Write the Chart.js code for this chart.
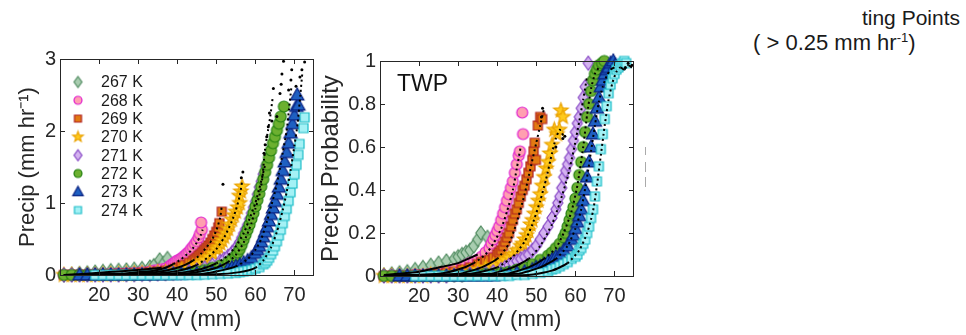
<!DOCTYPE html>
<html>
<head>
<meta charset="utf-8">
<script src="https://cdn.jsdelivr.net/npm/chart.js@4.4.1/dist/chart.umd.min.js"></script>
<style>
  body { margin: 0; background: #fff; width: 966px; height: 335px; overflow: hidden; position: relative; font-family: "Liberation Sans", Arial, Helvetica, sans-serif; color: #1a1a1a; }
  .box { position: absolute; top: 0; height: 335px; }
  .note { position: absolute; font-size: 21px; line-height: 21px; white-space: nowrap; }
  .note sup { font-size: 13px; line-height: 0; }
  .dash { position: absolute; left: 645px; width: 0; border-left: 1px solid #aaa; }
</style>
</head>
<body>
<div class="box" style="left:0;width:340px"><canvas id="precipChart" width="340" height="335"></canvas></div>
<div class="box" style="left:300px;width:360px"><canvas id="probChart" width="360" height="335"></canvas></div>
<div class="note" style="right:6px;top:7px">ting Points</div>
<div class="note" style="left:753px;top:32px;font-size:22px">( &gt; 0.25 mm hr<sup>-1</sup>)</div>
<div class="dash" style="top:147px;height:8px"></div>
<div class="dash" style="top:162px;height:10px"></div>
<div class="dash" style="top:177px;height:10px"></div>
<script>
// axis ticks and series names
var xTicks = [20, 30, 40, 50, 60, 70];
var precipTicks = [0, 1, 2, 3];
var probTicks = [0, 0.2, 0.4, 0.6, 0.8, 1];
var temps = ['267 K', '268 K', '269 K', '270 K', '271 K', '272 K', '273 K', '274 K'];

// left panel: mean precip (mm/hr) vs CWV (mm), [cwv, precip]
var precip267 = [[11,0],[13,0.01],[15,0.02],[17,0.03],[19,0.04],[21,0.05],[23,0.06],[25,0.065],[27,0.07],[29,0.08],[31,0.09],[33,0.11],[34,0.13],[35.5,0.21],[36.5,0.16],[37.5,0.23]];
var precip268 = [[11,0],[13,0],[15,0],[17,0.005],[19,0.01],[21,0.01],[23,0.015],[25,0.02],[27,0.025],[29,0.03],[31,0.04],[33,0.05],[34,0.06],[35,0.07],[36,0.08],[37,0.09],[38,0.12],[38.5,0.14],[39,0.16],[39.5,0.18],[40,0.2],[40.5,0.21],[41,0.23],[41.5,0.25],[42,0.27],[42.5,0.3],[43,0.32],[43.5,0.36],[44,0.39],[44.5,0.43],[45,0.47],[45.5,0.52],[45.8,0.57],[46.3,0.63],[46.1,0.73]];
var precip269 = [[11,0],[13,0],[15,0],[17,0],[19,0.005],[21,0.01],[23,0.01],[25,0.015],[27,0.02],[29,0.025],[31,0.03],[33,0.04],[35,0.05],[37,0.06],[39,0.08],[40,0.1],[41,0.12],[42,0.14],[43,0.17],[44,0.2],[44.5,0.22],[45,0.24],[45.5,0.27],[46,0.29],[46.5,0.32],[47,0.35],[47.5,0.38],[48,0.41],[48.5,0.45],[49,0.5],[49.5,0.55],[50,0.6],[50.5,0.66],[50.8,0.72],[51.4,0.88]];
var precip270 = [[11,0],[13,0],[15,0],[17,0],[19,0],[21,0.005],[23,0.01],[25,0.01],[27,0.015],[29,0.02],[31,0.025],[33,0.03],[35,0.035],[37,0.04],[39,0.05],[41,0.07],[43,0.1],[44,0.12],[45,0.14],[46,0.17],[47,0.21],[48,0.25],[49,0.3],[50,0.36],[50.5,0.39],[51,0.44],[51.5,0.48],[52,0.53],[52.5,0.58],[53,0.64],[53.5,0.7],[54,0.77],[54.5,0.83],[55,0.88],[55.5,0.94],[56,1.0],[55.9,1.1],[56.3,1.16],[56.6,1.23]];
var precip271 = [[11,0],[13,0],[15,0],[17,0],[19,0],[21,0],[23,0],[25,0],[27,0.005],[29,0.005],[31,0.01],[33,0.01],[35,0.015],[37,0.02],[39,0.025],[41,0.03],[43,0.05],[45,0.07],[47,0.1],[49,0.14],[51,0.19],[52,0.22],[53,0.26],[54,0.31],[55,0.37],[55.5,0.41],[56,0.46],[56.5,0.52],[57,0.58],[57.5,0.64],[58,0.7],[58.5,0.78],[59,0.86],[59.5,0.94],[60,1.02],[60.5,1.12],[61,1.22],[61.5,1.3],[62,1.4],[62.6,1.51]];
var precip272 = [[11,0],[13,0],[15,0],[17,0],[19,0],[21,0],[23,0],[25,0],[27,0],[29,0],[31,0.005],[33,0.005],[35,0.01],[37,0.01],[39,0.015],[41,0.02],[43,0.03],[45,0.05],[47,0.07],[49,0.1],[51,0.13],[53,0.18],[54,0.22],[55,0.27],[55.5,0.31],[56,0.36],[56.5,0.42],[57,0.49],[57.5,0.56],[58,0.63],[58.5,0.7],[59,0.78],[59.5,0.86],[60,0.95],[60.5,1.04],[61,1.13],[61.5,1.23],[62,1.33],[62.5,1.43],[63,1.53],[63.5,1.63],[64,1.73],[64.5,1.83],[65,1.92],[65.5,2.01],[66,2.1],[66.5,2.2],[67.3,2.34]];
var precip273 = [[15,0],[17,0],[19,0],[21,0],[23,0],[25,0],[27,0],[29,0],[31,0],[33,0],[35,0.005],[37,0.005],[39,0.01],[41,0.01],[43,0.015],[45,0.02],[47,0.03],[49,0.04],[51,0.06],[53,0.08],[54,0.1],[55,0.12],[56,0.14],[57,0.17],[58,0.2],[59,0.24],[60,0.3],[60.5,0.35],[61,0.4],[61.5,0.46],[62,0.53],[62.5,0.6],[63,0.67],[63.5,0.75],[64,0.84],[64.5,0.93],[65,1.02],[65.5,1.12],[66,1.22],[66.5,1.33],[67,1.45],[67.5,1.57],[68,1.7],[68.5,1.83],[69,1.97],[69.5,2.1],[70,2.22],[70.5,2.34],[71,2.36],[70.7,2.5]];
var precip274 = [[19,0],[21,0],[23,0],[25,0],[27,0],[29,0],[31,0],[33,0],[35,0],[37,0],[39,0],[41,0],[43,0],[45,0],[47,0.005],[49,0.01],[51,0.015],[53,0.02],[55,0.03],[56,0.04],[57,0.05],[58,0.06],[59,0.07],[60,0.09],[61,0.11],[62,0.15],[62.5,0.17],[63,0.2],[63.5,0.24],[64,0.29],[64.5,0.34],[65,0.4],[65.5,0.47],[66,0.55],[66.5,0.63],[67,0.72],[67.5,0.82],[68,0.92],[68.5,1.03],[69,1.15],[69.5,1.27],[70,1.4],[70.5,1.53],[71,1.67],[71.3,1.82],[72.3,2.04],[72.6,2.19]];

// left panel: black dotted curves and loose dots
var precipFit267 = [[11,0],[15,0.01],[20,0.03],[25,0.05],[30,0.07],[34,0.09],[36,0.1]];
var precipFit268 = [[11,0],[20,0.01],[26,0.02],[30,0.04],[34,0.06],[37,0.1],[39,0.15],[41,0.22],[43,0.31],[44,0.37],[45,0.45],[46,0.55],[46.5,0.63]];
var precipFit269 = [[11,0],[25,0.01],[32,0.03],[37,0.06],[40,0.1],[42,0.14],[44,0.2],[46,0.29],[48,0.42],[49,0.5],[50,0.62],[51,0.8],[51.4,0.96]];
var precipFit270 = [[11,0],[30,0.01],[38,0.04],[42,0.08],[45,0.14],[48,0.25],[50,0.36],[52,0.52],[54,0.75],[55,0.9],[56,1.1],[56.6,1.3]];
var precipFit271 = [[11,0],[35,0.01],[42,0.04],[46,0.08],[50,0.16],[53,0.27],[55,0.4],[57,0.58],[58.5,0.78],[60,1.0],[61,1.2],[62,1.42],[62.6,1.55]];
var precipFit272 = [[11,0],[40,0.01],[46,0.05],[50,0.1],[53,0.18],[55,0.28],[57,0.45],[59,0.72],[60,0.92],[61,1.1],[61.8,1.35],[62.2,1.6],[62.6,1.8],[63.2,2.0],[63.8,2.2],[64.4,2.45]];
var precipFit273 = [[11,0],[45,0.01],[50,0.05],[55,0.12],[58,0.22],[60,0.35],[61.5,0.5],[63,0.75],[64,0.95],[65,1.15],[66,1.4],[67,1.7],[68,2.0],[68.6,2.3],[69.2,2.6]];
var precipFit274 = [[11,0],[50,0.01],[56,0.04],[60,0.1],[62,0.2],[64,0.38],[65.5,0.6],[67,0.9],[68,1.15],[69,1.45],[70,1.8],[70.8,2.1],[71.5,2.5],[72,2.8]];
var precipDots = [[67.2,2.97],[69.3,2.85],[71.9,2.85],[71.4,2.75],[69.1,2.71],[66.8,2.79],[64.6,2.59],[66.6,2.65],[68.5,2.57],[66.3,2.52],[63.6,2.25],[65.5,2.2],[72.6,2.96],[70.4,2.62],[56.8,1.43],[56.4,1.35],[51.7,1.26],[62.2,1.69],[62.5,1.81],[62.9,1.92],[63.3,2.06],[64.2,2.14]];

// right panel: precip probability vs CWV (mm), [cwv, probability]
var prob267 = [[11,0.005],[13,0.01],[15,0.015],[17,0.02],[19,0.03],[21,0.04],[23,0.05],[25,0.06],[27,0.07],[29,0.08],[30,0.09],[31,0.1],[32,0.11],[33,0.12],[34,0.14],[35,0.17],[35.8,0.2],[37.5,0.18]];
var prob268 = [[11,0],[13,0],[15,0],[17,0],[19,0.005],[21,0.005],[23,0.01],[25,0.015],[27,0.02],[29,0.03],[31,0.04],[32,0.05],[33,0.06],[34,0.065],[35,0.075],[36,0.09],[37,0.11],[38,0.13],[38.5,0.15],[39,0.17],[39.5,0.19],[40,0.21],[40.5,0.23],[41,0.26],[41.5,0.29],[42,0.32],[42.5,0.35],[43,0.38],[43.5,0.41],[44,0.44],[44.5,0.48],[45,0.52],[45.5,0.56],[45.8,0.58],[46.6,0.66],[46.4,0.76]];
var prob269 = [[11,0],[13,0],[15,0],[17,0],[19,0.005],[21,0.005],[23,0.01],[25,0.01],[27,0.015],[29,0.02],[31,0.03],[33,0.04],[35,0.055],[36,0.065],[37,0.07],[38,0.075],[39,0.085],[40,0.1],[40.5,0.11],[41,0.12],[41.5,0.14],[42,0.16],[42.5,0.18],[43,0.2],[43.5,0.23],[44,0.26],[44.5,0.29],[45,0.31],[45.5,0.34],[46,0.37],[46.5,0.4],[47,0.42],[47.5,0.45],[48,0.48],[48.5,0.51],[49,0.54],[49.3,0.58],[49.6,0.62],[49.9,0.54],[50.4,0.7],[51,0.74],[51.5,0.73]];
var prob270 = [[11,0],[13,0],[15,0],[17,0],[19,0],[21,0],[23,0.005],[25,0.005],[27,0.01],[29,0.01],[31,0.015],[33,0.02],[35,0.03],[37,0.04],[39,0.05],[41,0.065],[42,0.075],[43,0.085],[44,0.1],[45,0.12],[46,0.14],[46.5,0.15],[47,0.17],[47.5,0.19],[48,0.21],[48.5,0.24],[49,0.26],[49.5,0.29],[50,0.32],[50.5,0.35],[51,0.38],[51.5,0.42],[52,0.46],[52.5,0.5],[53,0.53],[53.5,0.57],[54,0.61],[54.6,0.68],[55.3,0.66],[55.9,0.68],[56.3,0.77],[56.8,0.74]];
var prob271 = [[11,0],[13,0],[15,0],[17,0],[19,0],[21,0],[23,0],[25,0],[27,0],[29,0.005],[31,0.005],[33,0.01],[35,0.01],[37,0.015],[39,0.02],[41,0.03],[42,0.04],[43,0.05],[44,0.06],[45,0.07],[46,0.08],[47,0.09],[48,0.1],[49,0.12],[50,0.14],[51,0.17],[52,0.2],[53,0.23],[54,0.27],[55,0.31],[55.5,0.34],[56,0.37],[56.5,0.41],[57,0.46],[57.5,0.49],[58,0.52],[58.5,0.55],[59,0.59],[59.5,0.63],[60,0.67],[60.5,0.71],[61,0.74],[61.5,0.78],[62,0.83],[62.5,0.88],[63.3,0.99]];
var prob272 = [[11,0],[13,0],[15,0],[17,0],[19,0],[21,0],[23,0],[25,0],[27,0],[29,0],[31,0],[33,0.005],[35,0.005],[37,0.01],[39,0.01],[41,0.015],[43,0.02],[45,0.03],[47,0.04],[49,0.055],[51,0.075],[53,0.095],[54,0.11],[55,0.13],[56,0.15],[57,0.18],[57.5,0.2],[58,0.23],[58.5,0.26],[59,0.29],[59.5,0.32],[60,0.36],[60.5,0.41],[61,0.47],[61.5,0.53],[62,0.6],[62.5,0.67],[63,0.74],[63.5,0.8],[64,0.86],[64.5,0.91],[65,0.94],[65.5,0.96],[66,0.98],[66.8,0.99],[67.4,1.0]];
var prob273 = [[15,0],[17,0],[19,0],[21,0],[23,0],[25,0],[27,0],[29,0],[31,0],[33,0],[35,0],[37,0],[39,0],[41,0.005],[43,0.01],[45,0.015],[47,0.02],[49,0.03],[50,0.04],[51,0.045],[52,0.055],[53,0.065],[54,0.075],[55,0.09],[56,0.1],[57,0.12],[58,0.14],[59,0.17],[59.5,0.19],[60,0.22],[60.5,0.25],[61,0.28],[61.5,0.31],[62,0.35],[62.5,0.4],[63,0.46],[63.5,0.53],[64,0.6],[64.5,0.66],[65,0.72],[65.5,0.78],[66,0.83],[66.5,0.88],[67,0.91],[67.5,0.94],[68,0.96],[68.5,0.97],[69,0.99],[69.7,1.0],[70.2,0.98]];
var prob274 = [[19,0],[21,0],[23,0],[25,0],[27,0],[29,0],[31,0],[33,0],[35,0],[37,0],[39,0],[41,0],[43,0],[45,0.005],[47,0.005],[49,0.01],[51,0.015],[53,0.02],[54,0.03],[55,0.035],[56,0.045],[57,0.055],[58,0.065],[59,0.08],[60,0.09],[60.5,0.1],[61,0.12],[61.5,0.13],[62,0.15],[62.5,0.17],[63,0.2],[63.5,0.23],[64,0.27],[64.5,0.31],[65,0.37],[65.5,0.44],[66,0.51],[66.5,0.59],[67,0.66],[67.5,0.73],[68,0.79],[68.5,0.85],[69,0.89],[69.5,0.92],[70,0.94],[70.5,0.96],[71,0.97],[71.5,0.98],[72,0.99],[72.5,1.0],[73,0.99]];

// right panel: black dotted curves and loose dots
var probFit267 = [[11,0.005],[20,0.02],[25,0.04],[30,0.06],[35,0.1]];
var probFit268 = [[11,0],[25,0.01],[30,0.03],[34,0.06],[37,0.1],[39,0.15],[41,0.22],[42.5,0.3],[44,0.4],[45,0.5],[46,0.6]];
var probFit269 = [[11,0],[30,0.01],[36,0.04],[40,0.08],[43,0.15],[45,0.25],[47,0.38],[48.5,0.5],[50,0.62],[51,0.7],[52,0.78]];
var probFit270 = [[11,0],[33,0.01],[40,0.04],[44,0.09],[47,0.16],[49,0.24],[51,0.35],[52.5,0.45],[54,0.57],[55,0.64],[56,0.68],[57,0.65]];
var probFit271 = [[11,0],[38,0.01],[44,0.04],[48,0.08],[51,0.14],[54,0.24],[56,0.34],[58,0.46],[59.5,0.58],[61,0.72],[62,0.82],[63,0.93]];
var probFit272 = [[11,0],[42,0.01],[48,0.04],[52,0.08],[55,0.13],[57,0.2],[59,0.3],[60.5,0.42],[62,0.6],[63,0.75],[64,0.87],[65,0.94],[66,0.97]];
var probFit273 = [[11,0],[45,0.01],[51,0.04],[55,0.08],[58,0.14],[60,0.22],[61.5,0.31],[63,0.46],[64,0.58],[65,0.7],[66,0.81],[67,0.88],[68,0.93],[69,0.96],[70,0.97]];
var probFit274 = [[11,0],[48,0.005],[54,0.025],[58,0.06],[61,0.12],[63,0.2],[64.5,0.3],[65.5,0.42],[66.5,0.56],[67.5,0.7],[68.5,0.82],[69.5,0.9],[70.5,0.95],[71.5,0.97],[72.5,0.96],[73.5,0.98],[74.5,0.97]];
var probDots = [[51.6,0.78],[51.3,0.74],[56.8,0.64],[57.3,0.65],[55,0.6],[73.5,0.99],[74.5,0.98],[72.8,0.97]];

var FONT = '"Liberation Sans", Arial, Helvetica, sans-serif';
var INK = '#262626';

var looks = [
    { shape: 'diamond',  fill: '#a9cdb0', edge: '#4f8a5f', r: 7,   lr: 5.5 },
    { shape: 'circle',   fill: '#ff9fb0', edge: '#e020d0', r: 5.5, lr: 4 },
    { shape: 'square',   fill: '#e27a12', edge: '#b02020', r: 4.5, lr: 3.5 },
    { shape: 'star',     fill: '#ffca1c', edge: '#eaa200', r: 7.5, lr: 5.5 },
    { shape: 'diamond',  fill: '#d4b2f0', edge: '#8444c4', r: 7,   lr: 5.5 },
    { shape: 'circle',   fill: '#6cb030', edge: '#238010', r: 5.5, lr: 4 },
    { shape: 'triangle', fill: '#1f60c2', edge: '#0a2282', r: 7,   lr: 5.5 },
    { shape: 'square',   fill: '#a4f1f5', edge: '#1cbcc8', r: 4.5, lr: 3.5 }
];

function makeMarker(shape, r, fill, edge) {
    var c = document.createElement('canvas');
    var s = Math.ceil(2 * r + 4);
    c.width = s; c.height = s;
    var g = c.getContext('2d');
    var m = s / 2;
    g.beginPath();
    if (shape === 'circle') {
        g.arc(m, m, r, 0, 2 * Math.PI);
    } else if (shape === 'square') {
        g.rect(m - r, m - r, 2 * r, 2 * r);
    } else if (shape === 'diamond') {
        g.moveTo(m, m - r); g.lineTo(m + 0.72 * r, m); g.lineTo(m, m + r); g.lineTo(m - 0.72 * r, m); g.closePath();
    } else if (shape === 'triangle') {
        g.moveTo(m, m - r); g.lineTo(m + 0.95 * r, m + 0.7 * r); g.lineTo(m - 0.95 * r, m + 0.7 * r); g.closePath();
    } else {
        for (var k = 0; k < 10; k++) {
            var a = -Math.PI / 2 + k * Math.PI / 5;
            var rr = k % 2 ? r * 0.42 : r;
            g.lineTo(m + rr * Math.cos(a), m + rr * Math.sin(a));
        }
        g.closePath();
    }
    g.fillStyle = fill; g.fill();
    g.lineWidth = 1.2; g.strokeStyle = edge; g.stroke();
    return c;
}

var plotMarks = looks.map(function (l) { return makeMarker(l.shape, l.r, l.fill, l.edge); });
var legendMarks = looks.map(function (l) { return makeMarker(l.shape, l.lr, l.fill, l.edge); });

function pts(arr) {
    return arr.map(function (p) { return { x: p[0], y: p[1] }; });
}

function markerSet(arr, i) {
    return {
        label: temps[i], data: pts(arr), pointStyle: plotMarks[i], pointRadius: looks[i].r,
        showLine: false, clip: false, order: 20 - i
    };
}

function fitSet(arr) {
    return {
        data: pts(arr), showLine: true, pointRadius: 0, borderColor: '#000', borderWidth: 2,
        clip: false, order: 1, tension: 0.2,
        segment: {
            borderDash: function (c) {
                var dx = Math.abs(c.p1.x - c.p0.x), dy = Math.abs(c.p1.y - c.p0.y);
                return dy > 0.6 * dx ? [2, 3] : undefined;
            }
        }
    };
}

function dotSet(arr) {
    return { data: pts(arr), pointRadius: 1.5, pointBackgroundColor: '#000', pointBorderWidth: 0, showLine: false, clip: false, order: 0 };
}

// box round the plot area with inward tick marks on all sides
var frame = {
    id: 'frame',
    afterDraw: function (chart) {
        var ctx = chart.ctx, a = chart.chartArea;
        var xs = chart.scales.x, ys = chart.scales.y;
        ctx.save();
        ctx.strokeStyle = INK;
        ctx.lineWidth = 1;
        ctx.strokeRect(Math.round(a.left) + 0.5, Math.round(a.top) + 0.5, Math.round(a.right - a.left) - 1, Math.round(a.bottom - a.top));
        ctx.beginPath();
        xs.ticks.forEach(function (t) {
            var px = Math.round(xs.getPixelForValue(t.value)) + 0.5;
            ctx.moveTo(px, a.bottom); ctx.lineTo(px, a.bottom - 5);
            ctx.moveTo(px, a.top); ctx.lineTo(px, a.top + 5);
        });
        ys.ticks.forEach(function (t) {
            var py = Math.round(ys.getPixelForValue(t.value)) + 0.5;
            ctx.moveTo(a.left, py); ctx.lineTo(a.left + 5, py);
            ctx.moveTo(a.right, py); ctx.lineTo(a.right - 5, py);
        });
        ctx.stroke();
        ctx.restore();
    }
};

function axes(yTicks, yMax, yTitle, yTitleSize, yWidth, xHeight, titlePad) {
    return {
        x: {
            type: 'linear', min: 10, max: 75,
            afterBuildTicks: function (s) { s.ticks = xTicks.map(function (v) { return { value: v }; }); },
            afterFit: function (s) { s.height = xHeight; },
            grid: { display: false, drawTicks: false }, border: { display: false },
            ticks: { color: INK, font: { family: FONT, size: 20 }, padding: 8, maxRotation: 0 },
            title: { display: true, text: 'CWV (mm)', color: INK, font: { family: FONT, size: 22 }, padding: { top: 0, bottom: 2 } }
        },
        y: {
            type: 'linear', min: 0, max: yMax,
            afterBuildTicks: function (s) { s.ticks = yTicks.map(function (v) { return { value: v }; }); },
            afterFit: function (s) { s.width = yWidth; },
            grid: { display: false, drawTicks: false }, border: { display: false },
            ticks: {
                color: INK, font: { family: FONT, size: 20 }, padding: 4,
                callback: function (v) { return (v === 0 || v === 1 || v === 2 || v === 3) ? String(v) : v.toFixed(1); }
            },
            title: { display: true, text: yTitle, color: INK, font: { family: FONT, size: yTitleSize }, padding: { top: titlePad, bottom: 0 } }
        }
    };
}

var baseOpts = {
    responsive: false, animation: false, events: [],
    plugins: { legend: { display: false }, tooltip: { enabled: false } }
};

var precipSeries = [precip267, precip268, precip269, precip270, precip271, precip272, precip273, precip274];
var precipFits = [precipFit267, precipFit268, precipFit269, precipFit270, precipFit271, precipFit272, precipFit273, precipFit274];
var probSeries = [prob267, prob268, prob269, prob270, prob271, prob272, prob273, prob274];
var probFits = [probFit267, probFit268, probFit269, probFit270, probFit271, probFit272, probFit273, probFit274];

var legendBox = {
    id: 'legendBox',
    afterDraw: function (chart) {
        var ctx = chart.ctx;
        ctx.save();
        ctx.font = '16px ' + FONT;
        ctx.fillStyle = '#1a1a1a';
        ctx.textBaseline = 'middle';
        temps.forEach(function (t, i) {
            var y = 82 + i * 18.3;
            var m = legendMarks[i];
            ctx.drawImage(m, 78 - m.width / 2, y - m.height / 2);
            ctx.fillText(t, 101, y + 1);
        });
        ctx.restore();
    }
};

var twpLabel = {
    id: 'twpLabel',
    afterDraw: function (chart) {
        var ctx = chart.ctx;
        ctx.save();
        ctx.font = '23px ' + FONT;
        ctx.fillStyle = '#111';
        ctx.textBaseline = 'middle';
        ctx.fillText('TWP', 97, 85);
        ctx.restore();
    }
};

new Chart(document.getElementById('precipChart'), {
    type: 'scatter',
    data: {
        datasets: precipSeries.map(markerSet)
            .concat(precipFits.map(fitSet))
            .concat([dotSet(precipDots)])
    },
    options: Object.assign({}, baseOpts, {
        layout: { padding: { top: 59, right: 26, left: 0, bottom: 0 } },
        scales: axes(precipTicks, 3, 'Precip (mm hr\u207B\u00B9)', 22, 60, 60, 15)
    }),
    plugins: [frame, legendBox]
});

new Chart(document.getElementById('probChart'), {
    type: 'scatter',
    data: {
        datasets: probSeries.map(markerSet)
            .concat(probFits.map(fitSet))
            .concat([dotSet(probDots)])
    },
    options: Object.assign({}, baseOpts, {
        layout: { padding: { top: 61, right: 26, left: 0, bottom: 0 } },
        scales: axes(probTicks, 1, 'Precip Probability', 24, 80, 59, 17)
    }),
    plugins: [frame, twpLabel]
});
</script>
</body>
</html>
